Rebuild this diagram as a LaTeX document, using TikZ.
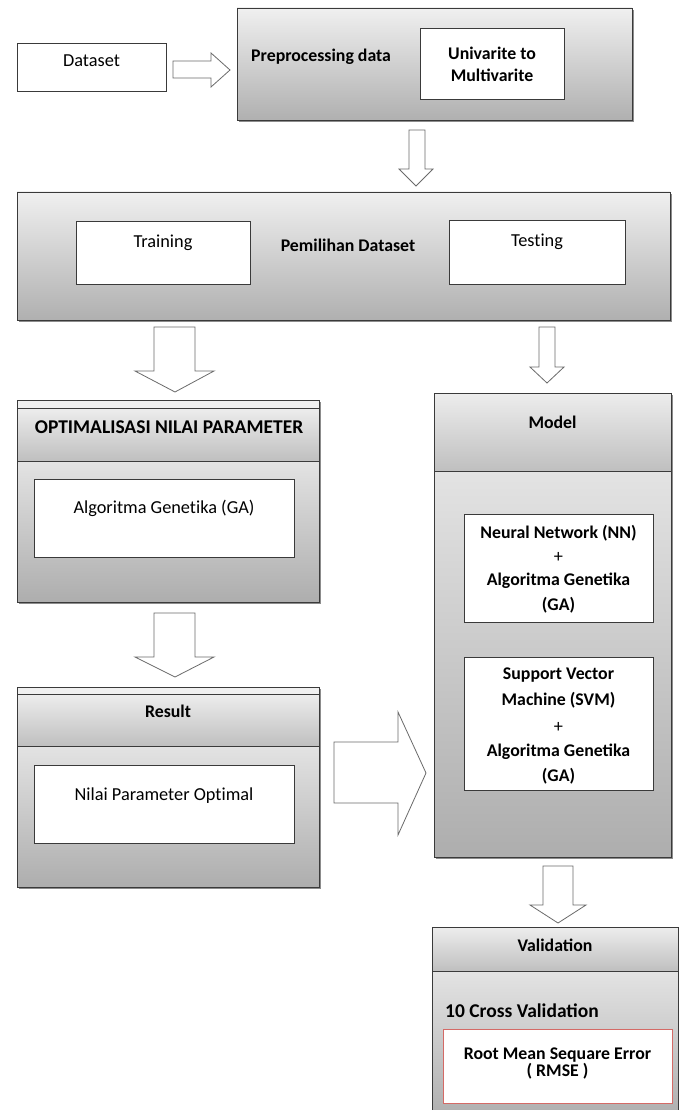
\documentclass[tikz,border=0pt]{standalone}
\usepackage{fontspec}
\setmainfont{Carlito}
\usetikzlibrary{shadows}
\definecolor{edge}{HTML}{3A3A3A}
\definecolor{arr}{HTML}{6A6A6A}
\definecolor{redb}{HTML}{D46A66}
\begin{document}
\begin{tikzpicture}[x=1pt,y=-1pt,
  base/.style={inner sep=0pt, outer sep=0pt, draw=edge, line width=0.9pt},
  wbox/.style={base, fill=white},
  gbox/.style={base, top color=black!6, bottom color=black!31},
  hdr/.style={base, top color=black!7, bottom color=black!25},
  bdy/.style={base, top color=black!11, bottom color=black!32},
  strip/.style={base, fill=black!6},
  shd/.style={drop shadow={shadow xshift=1.6pt, shadow yshift=-1.6pt, fill=black, opacity=0.45}},
  blockarrow/.style={draw=arr, fill=white, line width=0.8pt, line join=miter},
  reg/.style={inner sep=0pt, font=\fontsize{18.3}{22}\selectfont\addfontfeatures{Ligatures=NoCommon}},
  bld/.style={inner sep=0pt, font=\fontsize{17.8}{24}\selectfont\bfseries, align=center},
]
\useasboundingbox (0,0) rectangle (683,1110);
\fill[white] (0,0) rectangle (683,1110);

% ---------- top row ----------
\node[wbox, minimum width=149pt, minimum height=48pt] (dataset) at (91.5,67) {};
\node[reg] (tdataset) at (91.5,61) {Dataset};

\node[gbox, shd, minimum width=395pt, minimum height=112pt] (preproc) at (434.5,64) {};
\node[bld, anchor=west] (tpreproc) at (251,57) {Preprocessing data};
\node[wbox, minimum width=144pt, minimum height=71pt] (univ) at (492,63.5) {};
\node[bld, font=\fontsize{17.8}{22}\selectfont\bfseries] (tuniv) at (492,64) {Univarite to\\Multivarite};

\draw[blockarrow] (173,61) -- (211,61) -- (211,53) -- (230,70) -- (211,87) -- (211,78) -- (173,78) -- cycle;
\draw[blockarrow] (409,130) -- (425,130) -- (425,169) -- (433,169) -- (416,186) -- (399,169) -- (409,169) -- cycle;

% ---------- Pemilihan dataset ----------
\node[gbox, shd, minimum width=653pt, minimum height=128pt] (pemilihan) at (343.5,256) {};
\node[wbox, minimum width=174pt, minimum height=63pt] (training) at (163,252.5) {};
\node[reg] (ttraining) at (163,243) {Training};
\node[wbox, minimum width=176pt, minimum height=64pt] (testing) at (537,252) {};
\node[reg] (ttesting) at (537,242) {Testing};
\node[bld] (tpemilihan) at (348,245) {Pemilihan Dataset};

\draw[blockarrow] (154,327) -- (195,327) -- (195,371) -- (214,371) -- (175,392) -- (135,371) -- (154,371) -- cycle;
\draw[blockarrow] (539,327) -- (555,327) -- (555,367) -- (564,367) -- (547,383) -- (530,367) -- (539,367) -- cycle;

% ---------- Optimalisasi ----------
\node[base, shd, minimum width=302pt, minimum height=202pt] (optall) at (168,501) {};
\node[strip, minimum width=302pt, minimum height=8pt] (optstrip) at (168,404) {};
\node[hdr, minimum width=302pt, minimum height=53pt] (opthead) at (168,434.5) {};
\node[bdy, minimum width=302pt, minimum height=141pt] (optbody) at (168,531.5) {};
\node[bld, font=\fontsize{19.5}{24}\selectfont\bfseries] (topt) at (169,427) {OPTIMALISASI NILAI PARAMETER};
\node[wbox, minimum width=260pt, minimum height=78pt] (optinner) at (164,518) {};
\node[reg] (tga) at (164,508) {Algoritma Genetika (GA)};

\draw[blockarrow] (154,613) -- (195,613) -- (195,657) -- (214,657) -- (175,677) -- (135,657) -- (154,657) -- cycle;

% ---------- Result ----------
\node[base, shd, minimum width=302pt, minimum height=200pt] (resall) at (168,787) {};
\node[strip, minimum width=302pt, minimum height=7pt] (resstrip) at (168,690.5) {};
\node[hdr, minimum width=302pt, minimum height=52pt] (reshead) at (168,720) {};
\node[bdy, minimum width=302pt, minimum height=141pt] (resbody) at (168,816.5) {};
\node[bld] (tresult) at (168,711) {Result};
\node[wbox, minimum width=260pt, minimum height=78pt] (resinner) at (164,804) {};
\node[reg] (tnilai) at (164,796) {Nilai Parameter Optimal};

\draw[blockarrow] (334,742) -- (398,742) -- (398,712) -- (426,773) -- (398,835) -- (398,803) -- (334,803) -- cycle;

% ---------- Model ----------
\node[base, shd, minimum width=237pt, minimum height=464pt] (modall) at (552.5,625) {};
\node[hdr, minimum width=237pt, minimum height=78pt] (modhead) at (552.5,432) {};
\node[bdy, minimum width=237pt, minimum height=386pt] (modbody) at (552.5,664) {};
\node[bld] (tmodel) at (552.5,422) {Model};
\node[wbox, minimum width=189pt, minimum height=108pt] (nn) at (558.5,568) {};
\node[bld] (tnn1) at (558.5,533) {Neural Network (NN)};
\node[reg] (tnn2) at (558.5,557) {+};
\node[bld] (tnn3) at (558.5,581) {Algoritma Genetika};
\node[bld] (tnn4) at (558.5,605) {(GA)};
\node[wbox, minimum width=189pt, minimum height=133pt] (svm) at (558.5,723.5) {};
\node[bld] (tsvm1) at (558.5,675) {Support Vector};
\node[bld] (tsvm2) at (558.5,700) {Machine (SVM)};
\node[reg] (tsvm3) at (558.5,727) {+};
\node[bld] (tsvm4) at (558.5,752) {Algoritma Genetika};
\node[bld] (tsvm5) at (558.5,776) {(GA)};

\draw[blockarrow] (543,866) -- (573,866) -- (573,905) -- (586,905) -- (558,923) -- (530,905) -- (543,905) -- cycle;

% ---------- Validation ----------
\node[hdr, minimum width=246pt, minimum height=44pt] (valhead) at (555,949) {};
\node[bdy, minimum width=246pt, minimum height=149pt] (valbody) at (555,1045.5) {};
\node[bld] (tval) at (555,945) {Validation};
\node[bld, anchor=west, font=\fontsize{19.5}{24}\selectfont\bfseries] (tcross) at (445,1011) {10 Cross Validation};
\node[base, draw=redb, fill=white, minimum width=229pt, minimum height=74pt] (rmse) at (557.5,1066) {};
\node[bld] (trmse1) at (557.5,1055) {Root Mean Sequare Error};
\node[bld] (trmse2) at (557.5,1071) {( RMSE )};
\end{tikzpicture}
\end{document}
